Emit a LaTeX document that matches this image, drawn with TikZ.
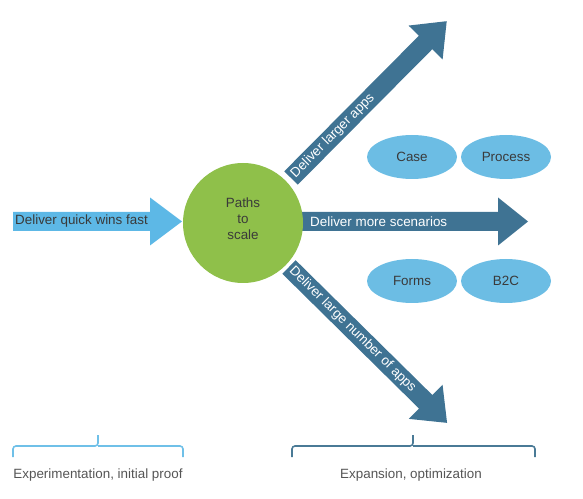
\documentclass[tikz,border=0pt]{standalone}
\usepackage{fontspec}
\setmainfont{Liberation Sans}
\usetikzlibrary{shapes.geometric}
\definecolor{lightarrow}{HTML}{5DB8E6}
\definecolor{ellblue}{HTML}{6CBDE4}
\definecolor{darkarrow}{HTML}{3F7393}
\definecolor{lbrack}{HTML}{6FC0E8}
\definecolor{rbrack}{HTML}{4A7A96}
\definecolor{circgreen}{HTML}{8FC04A}
\definecolor{txtgray}{HTML}{555555}
\definecolor{darktxt}{HTML}{3A3A3A}
\begin{document}
\begin{tikzpicture}[x=1pt,y=1pt,
  lbl/.style={font=\fontsize{13.4}{15}\selectfont, inner sep=0pt},
  whitelbl/.style={lbl, text=white, anchor=west},
  ell/.style={ellipse, fill=ellblue, minimum width=90pt, minimum height=44pt, lbl, text=darktxt},
  brace/.style={line width=1.6pt, rounded corners=3pt},
  caption/.style={lbl, text=txtgray}]
\useasboundingbox (0,0) rectangle (583,498);
% left arrow
\begin{scope}[shift={(13,276.5)}]
  \fill[lightarrow] (0,-9.5) -- (137,-9.5) -- (137,-24) -- (169,0) -- (137,24) -- (137,9.5) -- (0,9.5) -- cycle;
  \node[lbl, text=darktxt, anchor=west] (quick) at (2,0) {Deliver quick wins fast};
\end{scope}
% middle arrow
\begin{scope}[shift={(303,276.5)}]
  \fill[darkarrow] (-5,-9.5) -- (195,-9.5) -- (195,-24) -- (225,0) -- (195,24) -- (195,9.5) -- (-5,9.5) -- cycle;
  \node[whitelbl] (more) at (7,0) {Deliver more scenarios};
\end{scope}
% upper arrow
\begin{scope}[shift={(291,320)}, rotate=45.2]
  \fill[darkarrow] (0,-9.5) -- (191,-9.5) -- (191,-24) -- (221,0) -- (191,24) -- (191,9.5) -- (0,9.5) -- cycle;
  \node[whitelbl, rotate=45.2] (larger) at (3,0) {Deliver larger apps};
\end{scope}
% lower arrow
\begin{scope}[shift={(289,231)}, rotate=-44.6]
  \fill[darkarrow] (0,-9.5) -- (192,-9.5) -- (192,-24) -- (222,0) -- (192,24) -- (192,9.5) -- (0,9.5) -- cycle;
  \node[whitelbl, rotate=-44.6] (number) at (3,0) {Deliver large number of apps};
\end{scope}
% circle
\node[circle, fill=circgreen, minimum size=120pt, inner sep=0pt] (paths) at (243,275) {};
\node[lbl, text=darktxt, align=center, font=\fontsize{13.4}{16}\selectfont]
  (pathstext) at ([yshift=4pt]paths.center) {Paths\\to\\scale};
% ellipses
\node[ell] (case) at (412,341) {Case};
\node[ell] (process) at (506,341) {Process};
\node[ell] (forms) at (412,217) {Forms};
\node[ell] (b2c) at (506,217) {B2C};
% brackets
\draw[brace, lbrack] (13,41) -- (13,52) -- (98,52) -- (98,63);
\draw[brace, lbrack] (98,52) -- (183,52) -- (183,41);
\draw[brace, rbrack] (292,41) -- (292,52) -- (413,52) -- (413,63);
\draw[brace, rbrack] (413,52) -- (535,52) -- (535,41);
\node[caption, anchor=base] (exp) at (98,20) {Experimentation, initial proof};
\node[caption, anchor=base] (expan) at (411,20) {Expansion, optimization};
\end{tikzpicture}
\end{document}
